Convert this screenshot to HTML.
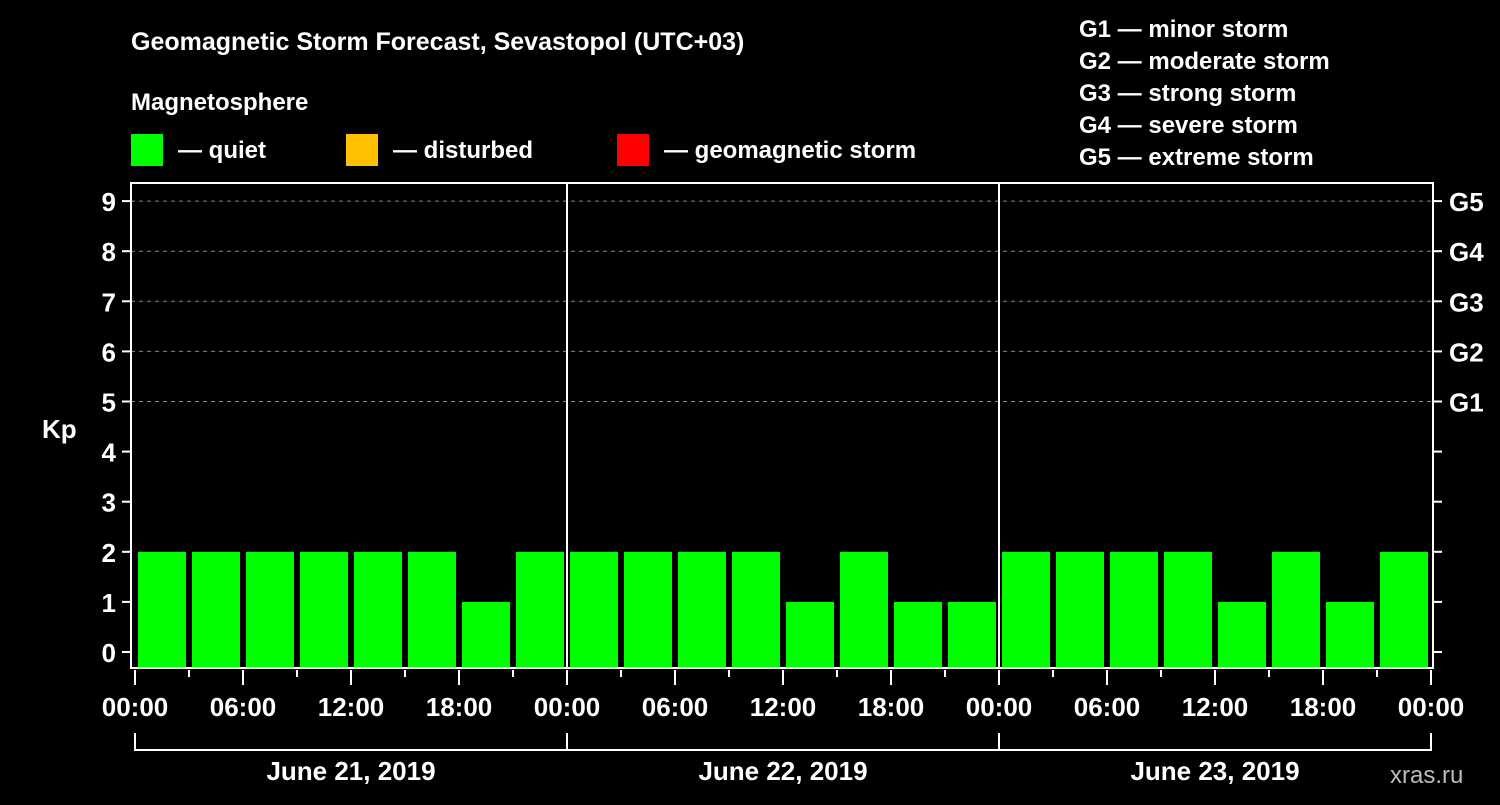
<!DOCTYPE html>
<html><head><meta charset="utf-8"><style>
body{margin:0;background:#000;width:1500px;height:800px;overflow:hidden}
svg text{font-family:"Liberation Sans",Arial,sans-serif;font-weight:bold;fill:#fff}
</style></head><body>
<svg id="c" width="1500" height="800">
<text x="131" y="50" font-size="25">Geomagnetic Storm Forecast, Sevastopol (UTC+03)</text>
<text x="131" y="110" font-size="24">Magnetosphere</text>
<g><rect x="131" y="134" width="32" height="32" fill="#00ff00"/><text x="178" y="158" font-size="24">— quiet</text></g>
<g><rect x="346" y="134" width="32" height="32" fill="#ffc000"/><text x="393" y="158" font-size="24">— disturbed</text></g>
<g><rect x="617" y="134" width="32" height="32" fill="#ff0000"/><text x="664" y="158" font-size="24">— geomagnetic storm</text></g>
<g font-size="24">
<text x="1079" y="37">G1 — minor storm</text><text x="1079" y="69">G2 — moderate storm</text><text x="1079" y="101">G3 — strong storm</text><text x="1079" y="133">G4 — severe storm</text><text x="1079" y="165">G5 — extreme storm</text></g>
<text x="42" y="438" font-size="26">Kp</text>
<text x="1390" y="783" font-size="24" fill="#bbb" style="fill:#bbb;font-weight:normal">xras.ru</text>
<g id="grid"></g><g id="bars"></g><g id="axes"></g>
</svg>
<script>
const kpValues=[2,2,2,2,2,2,1,2, 2,2,2,2,1,2,1,1, 2,2,2,2,1,2,1,2];
const yTicks=[0,1,2,3,4,5,6,7,8,9];
const gLabels=["G1","G2","G3","G4","G5"];
const gLevels=[5,6,7,8,9];
const dayLabels=["June 21, 2019","June 22, 2019","June 23, 2019"];
const hourLabels=["00:00","06:00","12:00","18:00"];
const NS="http://www.w3.org/2000/svg";
const X0=135,DAY=432,L=131,R=1433,T=183,B=668;
const y=v=>652-v*50.1;
const x=h=>X0+h*DAY/24;
function mk(p,t,a){const e=document.createElementNS(NS,t);for(const k in a)e.setAttribute(k,a[k]);p.appendChild(e);return e;}
const grid=document.getElementById('grid'),bars=document.getElementById('bars'),ax=document.getElementById('axes');
gLevels.forEach((v,i)=>{
 const l=mk(grid,'line',{x1:L,x2:R,y1:y(v),y2:y(v),stroke:'#888','stroke-dasharray':'4,4'});
 
 
 const t=mk(ax,'text',{x:1449,y:y(v)+10,'font-size':26});t.textContent=gLabels[i];
 
 
});
kpValues.forEach((v,i)=>{
 const c=v>=5?'#ff0000':(v>=4?'#ffc000':'#00ff00');
 const r=mk(bars,'rect',{x:x(i*3)+3,y:y(v),width:48,height:B-1-y(v),fill:c});
 
 
});
const fr=mk(ax,'rect',{x:L,y:T,width:R-L,height:B-T,fill:'none',stroke:'#fff','stroke-width':2});


for(let d=1;d<3;d++){const l=mk(ax,'line',{x1:x(d*24),x2:x(d*24),y1:T,y2:B,stroke:'#fff','stroke-width':2});
 
 }
yTicks.forEach(v=>{
 mk(ax,'line',{x1:122,x2:L,y1:y(v),y2:y(v),stroke:'#fff','stroke-width':2});
 mk(ax,'line',{x1:R,x2:R+9,y1:y(v),y2:y(v),stroke:'#fff','stroke-width':2});
 const t=mk(ax,'text',{x:116,y:y(v)+10,'font-size':26,'text-anchor':'end'});t.textContent=v;
 
 
});
for(let h=0;h<=72;h+=3){
 const maj=h%6===0;
 mk(ax,'line',{x1:x(h),x2:x(h),y1:B+2,y2:maj?B+17:B+9,stroke:'#fff','stroke-width':2});
 if(maj&&h%6===0){const t=mk(ax,'text',{x:x(h),y:716,'font-size':26,'text-anchor':'middle'});t.textContent=hourLabels[(h/6)%4];
 
 }
}
dayLabels.forEach((d,i)=>{
 mk(ax,'path',{d:`M${x(i*24)} 733V750H${x(i*24+24)}V733`,fill:'none',stroke:'#fff','stroke-width':2});
 const t=mk(ax,'text',{x:x(i*24+12),y:780,'font-size':26,'text-anchor':'middle'});t.textContent=d;
 
 
});
</script>
</body></html>
